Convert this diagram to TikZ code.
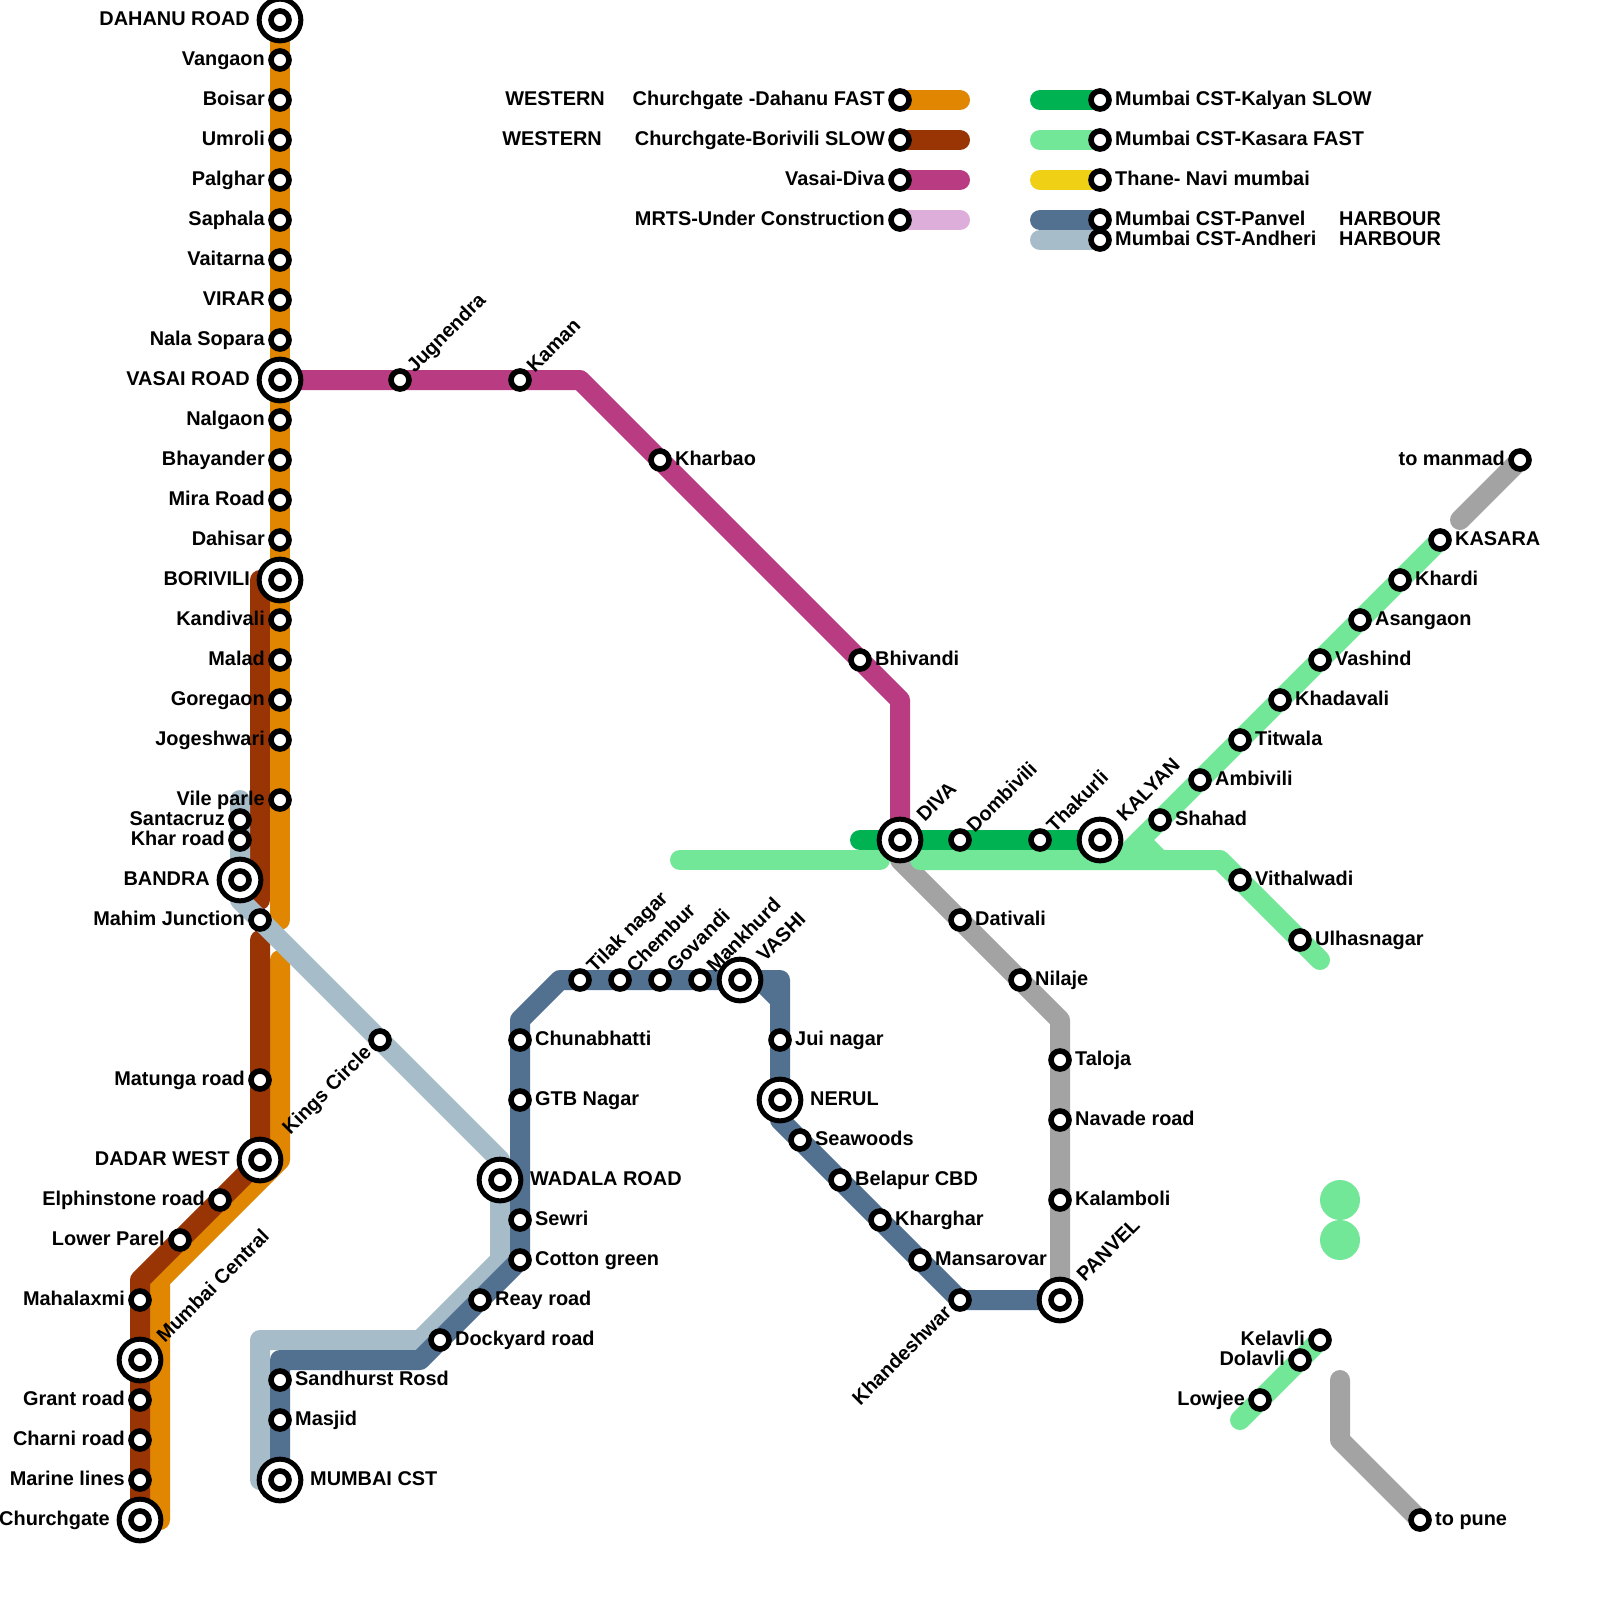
\documentclass[tikz,border=0pt]{standalone}
\usepackage{fontspec}
\setmainfont{Liberation Sans}
\usetikzlibrary{backgrounds}
\definecolor{fastline}{HTML}{E08600}
\definecolor{slowline}{HTML}{993404}
\definecolor{vasailine}{HTML}{B93C82}
\definecolor{mrtsline}{HTML}{DCAED9}
\definecolor{kalyanline}{HTML}{00B251}
\definecolor{kasaraline}{HTML}{72E798}
\definecolor{thaneline}{HTML}{EFD015}
\definecolor{panvelline}{HTML}{527090}
\definecolor{andheriline}{HTML}{A6BCC9}
\definecolor{otherline}{HTML}{A3A3A3}
\begin{document}
\begin{tikzpicture}[x=1pt, y=-1pt,
    lbl/.style={font=\bfseries\fontsize{19.9}{24}\selectfont, inner sep=0pt, text height=14pt, text depth=3.5pt},
    every label/.style={lbl},
    rlbl/.style={lbl, rotate=45, anchor=west},
    klbl/.style={lbl, rotate=45, anchor=east},
    stn/.style={circle, draw=black, fill=white, line width=5.6pt, minimum size=18pt, inner sep=0pt, outer sep=6pt},
    hub/.style={circle, draw=black, fill=white, line width=5pt, minimum size=41.7pt, inner sep=0pt, outer sep=9.15pt},
    metro/.style={line width=20pt, line cap=round, line join=round}
  ]
  \useasboundingbox (0,0) rectangle (1600,1600);

  % western
  \node[hub, label=left:DAHANU ROAD] (dahanu) at (280,20) {};
  \node[stn] (dahanueye) at (dahanu) {};
  \node[stn, label=left:Vangaon] (vangaon) at (280,60) {};
  \node[stn, label=left:Boisar] (boisar) at (280,100) {};
  \node[stn, label=left:Umroli] (umroli) at (280,140) {};
  \node[stn, label=left:Palghar] (palghar) at (280,180) {};
  \node[stn, label=left:Saphala] (saphala) at (280,220) {};
  \node[stn, label=left:Vaitarna] (vaitarna) at (280,260) {};
  \node[stn, label=left:VIRAR] (virar) at (280,300) {};
  \node[stn, label=left:Nala Sopara] (nala) at (280,340) {};
  \node[hub, label=left:VASAI ROAD] (vasai) at (280,380) {};
  \node[stn] (vasaieye) at (vasai) {};
  \node[stn, label=left:Nalgaon] (nalgaon) at (280,420) {};
  \node[stn, label=left:Bhayander] (bhayander) at (280,460) {};
  \node[stn, label=left:Mira Road] (mira) at (280,500) {};
  \node[stn, label=left:Dahisar] (dahisar) at (280,540) {};
  \node[hub, label=left:BORIVILI] (borivili) at (280,580) {};
  \node[stn] (borivilieye) at (borivili) {};
  \node[stn, label=left:Kandivali] (kandivali) at (280,620) {};
  \node[stn, label=left:Malad] (malad) at (280,660) {};
  \node[stn, label=left:Goregaon] (goregaon) at (280,700) {};
  \node[stn, label=left:Jogeshwari] (jogeshwari) at (280,740) {};
  \node[stn, label=left:Vile parle] (vile) at (280,800) {};
  \node[stn, label=left:Santacruz] (santacruz) at (240,820) {};
  \node[stn, label=left:Khar road] (khar) at (240,840) {};
  \node[hub, label=left:BANDRA] (bandra) at (240,880) {};
  \node[stn] (bandraeye) at (bandra) {};
  \node[stn, label=left:Mahim Junction] (mahim) at (260,920) {};
  \node[stn, label=left:Matunga road] (matunga) at (260,1080) {};
  \node[hub, label=left:DADAR WEST] (dadar) at (260,1160) {};
  \node[stn] (dadareye) at (dadar) {};
  \node[stn, label=left:Elphinstone road] (elphinstone) at (220,1200) {};
  \node[stn, label=left:Lower Parel] (lower) at (180,1240) {};
  \node[stn, label=left:Mahalaxmi] (mahalaxmi) at (140,1300) {};
  \node[hub] (central) at (140,1360) {};
  \node[stn] (centraleye) at (central) {};
  \node[stn, label=left:Grant road] (grant) at (140,1400) {};
  \node[stn, label=left:Charni road] (charni) at (140,1440) {};
  \node[stn, label=left:Marine lines] (marine) at (140,1480) {};
  \node[hub, label=left:Churchgate] (churchgate) at (140,1520) {};
  \node[stn] (churchgateeye) at (churchgate) {};
  \node[rlbl] (centrallbl) at ([shift={(21,-20)}]central) {Mumbai Central};

  % vasai-diva
  \node[stn] (jugnendra) at (400,380) {};
  \node[stn] (kaman) at (520,380) {};
  \node[stn, label=right:Kharbao] (kharbao) at (660,460) {};
  \node[stn, label=right:Bhivandi] (bhivandi) at (860,660) {};
  \node[rlbl] (jugnendralbl) at ([shift={(11,-10)}]jugnendra) {Jugnendra};
  \node[rlbl] (kamanlbl) at ([shift={(11,-10)}]kaman) {Kaman};

  % harbour
  \node[stn] (kings) at (380,1040) {};
  \node[klbl] (kingslbl) at ([shift={(-11,10)}]kings) {Kings Circle};
  \node[hub, label=right:WADALA ROAD] (wadala) at (500,1180) {};
  \node[stn] (wadalaeye) at (wadala) {};
  \node[hub, label=right:MUMBAI CST] (cst) at (280,1480) {};
  \node[stn] (csteye) at (cst) {};
  \node[stn, label=right:Masjid] (masjid) at (280,1420) {};
  \node[stn, label=right:Sandhurst Rosd] (sandhurst) at (280,1380) {};
  \node[stn, label=right:Dockyard road] (dockyard) at (440,1340) {};
  \node[stn, label=right:Reay road] (reay) at (480,1300) {};
  \node[stn, label=right:Cotton green] (cotton) at (520,1260) {};
  \node[stn, label=right:Sewri] (sewri) at (520,1220) {};
  \node[stn, label=right:GTB Nagar] (gtb) at (520,1100) {};
  \node[stn, label=right:Chunabhatti] (chunabhatti) at (520,1040) {};
  \node[stn] (tilak) at (580,980) {};
  \node[stn] (chembur) at (620,980) {};
  \node[stn] (govandi) at (660,980) {};
  \node[stn] (mankhurd) at (700,980) {};
  \node[hub] (vashi) at (740,980) {};
  \node[stn] (vashieye) at (vashi) {};
  \node[rlbl] (tilaklbl) at ([shift={(11,-10)}]tilak) {Tilak nagar};
  \node[rlbl] (chemburlbl) at ([shift={(11,-10)}]chembur) {Chembur};
  \node[rlbl] (govandilbl) at ([shift={(11,-10)}]govandi) {Govandi};
  \node[rlbl] (mankhurdlbl) at ([shift={(11,-10)}]mankhurd) {Mankhurd};
  \node[rlbl] (vashilbl) at ([shift={(21,-21)}]vashi) {VASHI};
  \node[stn, label=right:Jui nagar] (jui) at (780,1040) {};
  \node[hub, label=right:NERUL] (nerul) at (780,1100) {};
  \node[stn] (nerueye) at (nerul) {};
  \node[stn, label=right:Seawoods] (seawoods) at (800,1140) {};
  \node[stn, label=right:Belapur CBD] (belapur) at (840,1180) {};
  \node[stn, label=right:Kharghar] (kharghar) at (880,1220) {};
  \node[stn, label=right:Mansarovar] (mansarovar) at (920,1260) {};
  \node[stn] (khandeshwar) at (960,1300) {};
  \node[klbl] (khandeshwarlbl) at ([shift={(-11,10)}]khandeshwar) {Khandeshwar};
  \node[hub] (panvel) at (1060,1300) {};
  \node[stn] (panveleye) at (panvel) {};
  \node[rlbl] (panvellbl) at ([shift={(21,-21)}]panvel) {PANVEL};
  \node[stn, label=right:Kalamboli] (kalamboli) at (1060,1200) {};
  \node[stn, label=right:Navade road] (navade) at (1060,1120) {};
  \node[stn, label=right:Taloja] (taloja) at (1060,1060) {};
  \node[stn, label=right:Nilaje] (nilaje) at (1020,980) {};
  \node[stn, label=right:Dativali] (dativali) at (960,920) {};

  % central
  \node[hub] (diva) at (900,840) {};
  \node[stn] (divaeye) at (diva) {};
  \node[stn] (dombivili) at (960,840) {};
  \node[stn] (thakurli) at (1040,840) {};
  \node[hub] (kalyan) at (1100,840) {};
  \node[stn] (kalyaneye) at (kalyan) {};
  \node[rlbl] (divalbl) at ([shift={(21,-21)}]diva) {DIVA};
  \node[rlbl] (dombivililbl) at ([shift={(11,-10)}]dombivili) {Dombivili};
  \node[rlbl] (thakurlilbl) at ([shift={(11,-10)}]thakurli) {Thakurli};
  \node[rlbl] (kalyanlbl) at ([shift={(21,-21)}]kalyan) {KALYAN};
  \node[stn, label=right:Shahad] (shahad) at (1160,820) {};
  \node[stn, label=right:Ambivili] (ambivili) at (1200,780) {};
  \node[stn, label=right:Titwala] (titwala) at (1240,740) {};
  \node[stn, label=right:Khadavali] (khadavali) at (1280,700) {};
  \node[stn, label=right:Vashind] (vashind) at (1320,660) {};
  \node[stn, label=right:Asangaon] (asangaon) at (1360,620) {};
  \node[stn, label=right:Khardi] (khardi) at (1400,580) {};
  \node[stn, label=right:KASARA] (kasara) at (1440,540) {};
  \node[stn, label=left:to manmad] (manmad) at (1520,460) {};
  \node[stn, label=right:Vithalwadi] (vithalwadi) at (1240,880) {};
  \node[stn, label=right:Ulhasnagar] (ulhasnagar) at (1300,940) {};
  \node[stn, label=left:Kelavli] (kelavli) at (1320,1340) {};
  \node[stn, label=left:Dolavli] (dolavli) at (1300,1360) {};
  \node[stn, label=left:Lowjee] (lowjee) at (1260,1400) {};
  \node[stn, label=right:to pune] (pune) at (1420,1520) {};
  \node[circle, fill=kasaraline, minimum size=40pt, inner sep=0pt] (blobup) at (1340,1200) {};
  \node[circle, fill=kasaraline, minimum size=40pt, inner sep=0pt] (blobdown) at (1340,1240) {};

  % key
  \node[stn, label=left:Churchgate -Dahanu FAST] (keyfast) at (900,100) {};
  \node[stn, label=left:Churchgate-Borivili SLOW] (keyslow) at (900,140) {};
  \node[stn, label=left:Vasai-Diva] (keyvasai) at (900,180) {};
  \node[stn, label=left:MRTS-Under Construction] (keymrts) at (900,220) {};
  \node[stn, label=right:Mumbai CST-Kalyan SLOW] (keykalyan) at (1100,100) {};
  \node[stn, label=right:Mumbai CST-Kasara FAST] (keykasara) at (1100,140) {};
  \node[stn, label=right:Thane- Navi mumbai] (keythane) at (1100,180) {};
  \node[stn, label=right:Mumbai CST-Panvel] (keypanvel) at (1100,220) {};
  \node[stn, label=right:Mumbai CST-Andheri] (keyandheri) at (1100,240) {};
  \node[lbl, anchor=east] (westernfast) at (605,100) {WESTERN};
  \node[lbl, anchor=east] (westernslow) at (602,140) {WESTERN};
  \node[lbl, anchor=west] (harbourpanvel) at (1339,220) {HARBOUR};
  \node[lbl, anchor=west] (harbourandheri) at (1339,240) {HARBOUR};

  \begin{scope}[on background layer]
    \draw[metro, fastline] (dahanu.center) -- (280,920);
    \draw[metro, fastline] (280,960) -- (280,1160) -- (160,1280) -- (160,1520);
    \draw[metro, slowline] (260,580) -- (260,900);
    \draw[metro, slowline] (260,940) -- (dadar.center) -- (140,1280) -- (churchgate.center);
    \draw[metro, andheriline] (240,800) -- (240,900) -- (500,1160) -- (500,1260) -- (420,1340) -- (260,1340) -- (260,1480);
    \draw[metro, panvelline] (cst.center) -- (280,1360) -- (420,1360) -- (520,1260) -- (520,1020) -- (560,980) -- (780,980) -- (nerul.center) -- (780,1120) -- (khandeshwar.center) -- (panvel.center);
    \draw[metro, panvelline] (760,980) -- (780,1000);
    \draw[metro, otherline] (900,860) -- (1060,1020) -- (panvel.center);
    \draw[metro, otherline] (1460,520) -- (manmad.center);
    \draw[metro, otherline] (1340,1380) -- (1340,1440) -- (pune.center);
    \draw[metro, vasailine] (vasai.center) -- (580,380) -- (900,700) -- (diva.center);
    \draw[metro, kalyanline] (860,840) -- (kalyan.center);
    \draw[metro, kasaraline] (680,860) -- (880,860);
    \draw[metro, kasaraline] (920,860) -- (1220,860) -- (1320,960);
    \draw[metro, kasaraline] (1120,860) -- (kasara.center);
    \draw[metro, kasaraline] (1140,840) -- (1160,860);
    \draw[metro, kasaraline] (1240,1420) -- (kelavli.center);
    \draw[metro, fastline] (keyfast.center) -- (960,100);
    \draw[metro, slowline] (keyslow.center) -- (960,140);
    \draw[metro, vasailine] (keyvasai.center) -- (960,180);
    \draw[metro, mrtsline] (keymrts.center) -- (960,220);
    \draw[metro, kalyanline] (1040,100) -- (keykalyan.center);
    \draw[metro, kasaraline] (1040,140) -- (keykasara.center);
    \draw[metro, thaneline] (1040,180) -- (keythane.center);
    \draw[metro, andheriline] (1040,240) -- (keyandheri.center);
    \draw[metro, panvelline] (1040,220) -- (keypanvel.center);
  \end{scope}
\end{tikzpicture}
\end{document}
